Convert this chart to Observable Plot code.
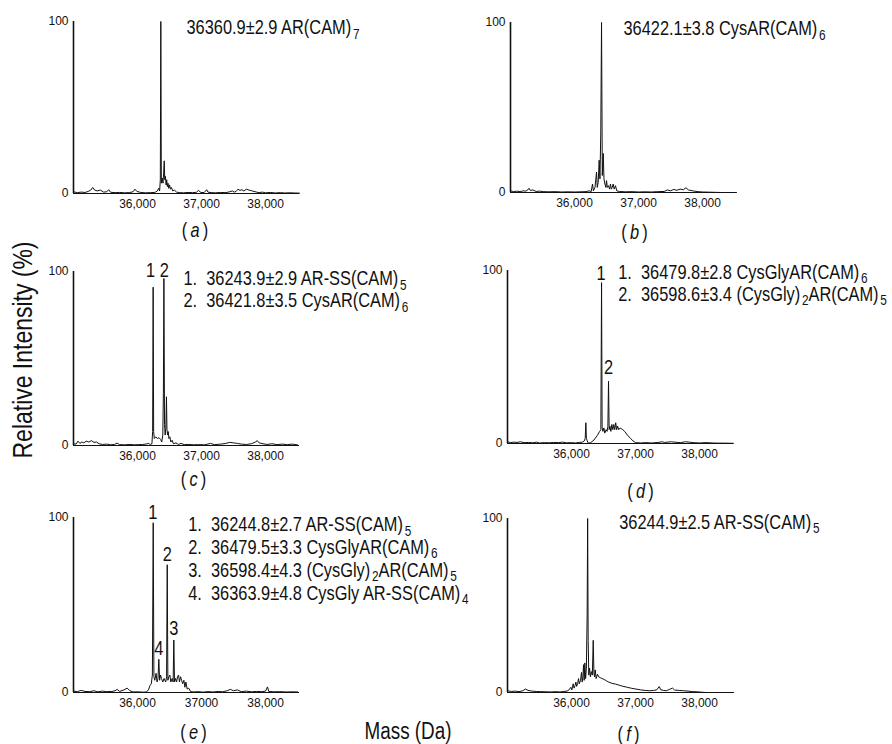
<!DOCTYPE html>
<html>
<head>
<meta charset="utf-8">
<script src="https://cdn.jsdelivr.net/npm/d3@7"></script>
<script src="https://cdn.jsdelivr.net/npm/@observablehq/plot@0.6"></script>
<style>
  body { margin: 0; background: #fff; }
  #fig { position: relative; width: 892px; height: 744px; background: #fff; overflow: hidden; }
  #fig svg { position: absolute; overflow: visible; }
  .lab { position: absolute; font-family: "Liberation Sans", Arial, sans-serif; color: #111; white-space: nowrap; line-height: 1; }
</style>
</head>
<body>
<div id="fig"></div>
<script>
// ---------------- data ----------------
const massDomain = [35000, 38530];
const xTicks = [36000, 37000, 38000];
const xTickLabels = ["36,000", "37,000", "38,000"];
const xTickLabelsE = ["36,000", "37000", "38,000"];
const yTicks = [0, 100];

// [mass (Da), relative intensity (%)]
const specA = [[35000,1],[35060,0.5],[35120,0.8],[35180,0.6],[35230,1.2],[35270,2],[35300,3.5],[35330,2],[35370,1.5],[35420,2],[35470,0.8],[35520,1],[35550,2.2],[35580,0.7],[35650,0.5],[35720,0.6],[35800,0.4],[35870,0.5],[35930,1],[35960,2.5],[35990,1.2],[36050,0.6],[36120,0.4],[36200,0.5],[36270,0.6],[36310,1.5],[36330,3],[36345,1.5],[36356,8],[36364,100],[36372,6],[36385,9],[36398,6],[36408,12],[36417,19],[36426,8],[36436,10],[36446,5],[36456,8],[36466,4],[36476,6],[36488,3],[36500,5],[36515,2.5],[36530,3.5],[36550,1.5],[36575,2],[36610,0.8],[36660,0.5],[36720,0.4],[36790,0.6],[36860,0.5],[36920,0.7],[36950,1.8],[36990,0.6],[37040,0.5],[37080,2.2],[37100,0.8],[37150,0.5],[37220,0.4],[37300,0.6],[37380,0.5],[37440,1],[37480,1.5],[37510,0.8],[37540,1.2],[37570,2.5],[37600,1.8],[37630,2.2],[37660,1.5],[37700,2.5],[37740,2],[37780,1.6],[37820,1.2],[37860,0.8],[37900,0.5],[37950,0.8],[38000,0.4],[38080,0.6],[38150,0.3],[38230,0.5],[38300,0.3],[38380,0.4],[38450,0.3],[38530,0.2]];

const specB = [[35000,1],[35050,0.5],[35100,0.8],[35150,0.5],[35200,1],[35240,0.8],[35270,1.5],[35290,2.5],[35310,1.2],[35350,1.5],[35400,0.6],[35450,0.8],[35520,0.5],[35600,0.4],[35700,0.5],[35800,0.3],[35900,0.4],[36000,0.3],[36100,0.4],[36180,0.5],[36230,1],[36260,0.5],[36281,5],[36295,1],[36320,3],[36344,12],[36355,3],[36370,6],[36385,19],[36397,8],[36410,35],[36422,100],[36434,10],[36448,23],[36460,8],[36475,5],[36490,3],[36500,7],[36512,3],[36530,4],[36548,2],[36562,5],[36575,2],[36590,3],[36604,5],[36620,2],[36640,4],[36660,1],[36700,0.6],[36800,0.4],[36900,0.5],[37000,0.3],[37100,0.4],[37200,0.3],[37300,0.5],[37400,0.6],[37450,1.5],[37500,1],[37550,1.8],[37600,1.3],[37650,2],[37700,1.6],[37740,2.8],[37780,1.5],[37820,1.2],[37870,0.8],[37930,0.5],[38000,0.3],[38100,0.2],[38200,0.1],[38300,0],[38400,0],[38530,0]];

const specC = [[35000,1],[35040,0.8],[35070,2.5],[35100,1.2],[35130,2],[35160,1.5],[35200,2.5],[35240,2],[35280,2.8],[35320,1.8],[35360,2],[35400,1],[35450,0.6],[35520,0.8],[35580,0.4],[35640,0.6],[35680,1.4],[35720,0.5],[35800,0.4],[35880,0.6],[35950,0.4],[36020,0.5],[36080,0.6],[36130,0.8],[36170,1.2],[36200,0.6],[36225,1],[36236,8],[36244,91],[36252,8],[36262,4],[36285,5],[36310,4],[36335,4.5],[36360,3.5],[36378,2],[36395,6],[36404,30],[36412,96],[36422,12],[36432,6],[36442,10],[36452,28],[36460,9],[36470,6],[36480,8],[36490,4],[36505,5],[36520,2],[36540,3],[36560,1],[36600,1.5],[36640,0.6],[36680,1.2],[36730,0.5],[36800,0.6],[36880,0.4],[36950,0.5],[37050,0.4],[37140,1.2],[37200,0.5],[37300,0.8],[37380,1.2],[37440,1.8],[37500,1.5],[37560,1.2],[37620,0.8],[37700,0.6],[37780,1],[37840,2],[37870,2.8],[37900,1.5],[37960,1],[38020,0.6],[38100,1],[38180,0.5],[38260,0.8],[38340,0.5],[38420,0.8],[38500,0.3]];

const specD = [[35000,1],[35050,0.5],[35100,0.8],[35150,0.6],[35200,1],[35260,0.5],[35330,0.6],[35400,0.4],[35450,0.8],[35500,0.3],[35580,0.5],[35650,0.4],[35720,0.6],[35800,0.5],[35860,0.8],[35920,0.4],[36000,0.5],[36060,0.3],[36120,0.6],[36170,0.8],[36200,1.5],[36214,3],[36224,12],[36232,3],[36245,1.5],[36262,0.2],[36300,0.5],[36350,2],[36400,4.5],[36440,7],[36458,8],[36469,93],[36478,9],[36490,7],[36505,9],[36520,6],[36540,8],[36556,7],[36568,10],[36578,36],[36588,8],[36600,10],[36615,7],[36630,11],[36645,8],[36660,11],[36675,8],[36690,12],[36705,8],[36720,10],[36738,8],[36760,9],[36800,8],[36830,7],[36870,5],[36920,3],[36960,1.5],[37000,0.5],[37080,0.3],[37160,0.5],[37250,0.3],[37350,0.6],[37420,1],[37450,0.6],[37560,1],[37600,0.8],[37700,0.5],[37780,1],[37840,0.8],[37900,0.5],[38000,0.3],[38100,0.5],[38200,0.3],[38300,0.2],[38400,0.2],[38530,0.1]];

const specE = [[35000,0.8],[35060,0.5],[35120,1.2],[35180,0.6],[35250,0.5],[35320,1],[35380,0.4],[35450,0.8],[35520,0.5],[35600,0.6],[35650,1],[35682,1.8],[35720,0.6],[35790,1.5],[35839,2.5],[35880,1],[35930,0.3],[36000,0.4],[36080,0.2],[36140,0.3],[36170,1.5],[36195,4],[36215,5],[36232,10],[36245,97],[36256,9],[36270,7],[36290,11],[36305,6],[36320,8],[36333,19],[36345,7],[36360,10],[36375,8],[36395,6],[36415,8],[36440,6],[36454,9],[36464,73],[36474,7],[36490,9],[36505,10],[36520,6],[36540,8],[36556,6],[36567,30],[36578,6],[36595,8],[36610,6],[36625,9],[36641,10],[36655,6],[36672,9],[36688,7],[36705,5],[36724,7],[36740,3],[36755,6],[36775,2],[36800,2.5],[36830,0.5],[36880,0.3],[36950,0.5],[37020,0.2],[37100,0.5],[37180,0.3],[37260,0.6],[37330,0.4],[37400,1],[37450,1.8],[37500,1],[37557,1.5],[37620,0.5],[37700,0.8],[37780,0.4],[37860,0.6],[37940,0.5],[38000,0.8],[38030,3.2],[38050,0.6],[38130,0.4],[38220,0.5],[38320,0.3],[38420,0.4],[38500,0.3]];

const specF = [[35000,1],[35060,0.6],[35120,0.8],[35180,0.5],[35240,1],[35280,2],[35320,1.2],[35380,0.8],[35450,0.6],[35520,0.5],[35600,0.4],[35680,0.3],[35750,0.5],[35820,0.3],[35880,0.6],[35930,0.8],[35960,1.5],[35990,3],[36005,1.5],[36026,5],[36040,2.5],[36055,4],[36068,6],[36080,3.5],[36095,5],[36109,8],[36122,5],[36140,7],[36156,11.5],[36166,6],[36178,9],[36188,16],[36198,7],[36208,17],[36220,8],[36232,14],[36244,45],[36252,100],[36260,30],[36270,10],[36282,14],[36295,9],[36310,12],[36325,10],[36339,30],[36350,11],[36360,9],[36370,13],[36385,8],[36406,10.5],[36425,9],[36450,8.5],[36480,8],[36510,7.5],[36545,6.7],[36580,6],[36630,5.3],[36690,4.8],[36745,4.2],[36800,3.6],[36870,3],[36940,2.4],[37005,2],[37080,1.5],[37150,1.2],[37220,1],[37280,1.2],[37330,1.5],[37370,3.4],[37395,1.5],[37440,1.2],[37480,1],[37530,1.8],[37578,2.5],[37610,1.4],[37680,1.2],[37750,1],[37820,0.8],[37890,0.5],[37960,0.4],[38020,0.2],[38100,0],[38250,0],[38400,0],[38530,0]];

// annotations ("_n" = subscript, "*x*" = italic)
const annA = ["36360.9±2.9 AR(CAM)_7"];
const annB = ["36422.1±3.8 CysAR(CAM)_6"];
const annC = ["1.  36243.9±2.9 AR-SS(CAM)_5", "2.  36421.8±3.5 CysAR(CAM)_6"];
const annD = ["1.  36479.8±2.8 CysGlyAR(CAM)_6", "2.  36598.6±3.4 (CysGly)_2AR(CAM)_5"];
const annE = ["1.  36244.8±2.7 AR-SS(CAM)_5", "2.  36479.5±3.3 CysGlyAR(CAM)_6", "3.  36598.4±4.3 (CysGly)_2AR(CAM)_5", "4.  36363.9±4.8 CysGly AR-SS(CAM)_4"];
const annF = ["36244.9±2.5 AR-SS(CAM)_5"];

// peak number labels: label centre mass, label height (%), text
const peaksC = [{mass: 36205, at: 100.5, label: "1"}, {mass: 36418, at: 100.5, label: "2"}];
const peaksD = [{mass: 36462, at: 98, label: "1"}, {mass: 36578, at: 43.6, label: "2"}];
const peaksE = [{mass: 36240, at: 103, label: "1"}, {mass: 36464, at: 79, label: "2"}, {mass: 36567, at: 36.6, label: "3"}, {mass: 36333, at: 25, label: "4"}];

const panelLetters = ["a", "b", "c", "d", "e", "f"];
const yAxisTitle = "Relative Intensity (%)";
const xAxisTitle = "Mass (Da)";

// ---------------- layout ----------------
const LABEL_FONT = '"Liberation Sans", Arial, sans-serif';
const NARROW_SCALE = 0.82;
const panels = [
  {spec: specA, ann: annA, peaks: [], xl: xTickLabels,  L: {left: 0,   top: 0,   h: 250, ml: 73, mt: 21, mb: 57, tx: 113,   ty: 6.5, lh: 22,   lx: 8.5, ly: 37}},
  {spec: specB, ann: annB, peaks: [], xl: xTickLabels,  L: {left: 446, top: 0,   h: 250, ml: 64, mt: 22, mb: 58, tx: 113,   ty: 6.3, lh: 22,   lx: 11,  ly: 40}},
  {spec: specC, ann: annC, peaks: peaksC, xl: xTickLabels,  L: {left: 0,   top: 250, h: 245, ml: 73, mt: 21, mb: 50, tx: 110,   ty: 7.5, lh: 22,   lx: 7,   ly: 34}},
  {spec: specD, ann: annD, peaks: peaksD, xl: xTickLabels,  L: {left: 446, top: 250, h: 245, ml: 61, mt: 20, mb: 52, tx: 110.7, ty: 2,   lh: 21.7, lx: 20,  ly: 48}},
  {spec: specE, ann: annE, peaks: peaksE, xl: xTickLabelsE, L: {left: 0,   top: 495, h: 249, ml: 73, mt: 22, mb: 52, tx: 114.7, ty: 7.5, lh: 22.7, lx: 7,   ly: 40}},
  {spec: specF, ann: annF, peaks: [], xl: xTickLabels,  L: {left: 446, top: 495, h: 249, ml: 61, mt: 23, mb: 52, tx: 111.7, ty: 4,   lh: 22,   lx: 8,   ly: 42}}
];

// turn "_n" into subscripts and "*x*" into italics
function richify(root) {
  const NS = "http://www.w3.org/2000/svg";
  root.querySelectorAll("text, tspan").forEach(el => {
    if (el.children.length) return;
    const s = el.textContent;
    if (!/_\d|\*[^*]+\*/.test(s)) return;
    el.textContent = "";
    const re = /_(\d+)|\*([^*]+)\*/g;
    let last = 0, m, pendingRevert = false;
    const addPlain = (t) => {
      if (!t) return;
      const ts = document.createElementNS(NS, "tspan");
      if (pendingRevert) { ts.setAttribute("dy", "-0.22em"); pendingRevert = false; }
      ts.textContent = t;
      el.appendChild(ts);
    };
    while ((m = re.exec(s))) {
      addPlain(s.slice(last, m.index));
      const ts = document.createElementNS(NS, "tspan");
      if (m[1] !== undefined) {
        ts.setAttribute("font-size", "72%");
        ts.setAttribute("dy", "0.3em");
        ts.setAttribute("dx", "0.15em");
        ts.textContent = m[1];
        pendingRevert = true;
      } else {
        if (pendingRevert) { ts.setAttribute("dy", "-0.22em"); pendingRevert = false; }
        ts.setAttribute("font-style", "italic");
        ts.textContent = m[2];
      }
      el.appendChild(ts);
      last = re.lastIndex;
    }
    addPlain(s.slice(last));
  });
}

// horizontally condense the lettering (the figure's type is narrow), keeping each anchor fixed
function condense(root) {
  const NS = "http://www.w3.org/2000/svg";
  root.querySelectorAll("g[font-size='20'] text").forEach(el => {
    const wrap = document.createElementNS(NS, "g");
    el.parentNode.insertBefore(wrap, el);
    wrap.appendChild(el);
    const b = wrap.getBBox();
    const anchorEl = el.closest("[text-anchor]");
    const anchor = anchorEl ? anchorEl.getAttribute("text-anchor") : "middle";
    const ax = anchor === "start" ? b.x : anchor === "end" ? b.x + b.width : b.x + b.width / 2;
    wrap.setAttribute("transform", `translate(${ax},0) scale(${NARROW_SCALE},1) translate(${-ax},0)`);
  });
}

const fig = document.getElementById("fig");

panels.forEach((p, idx) => {
  const L = p.L;
  const plot = Plot.plot({
    width: 446,
    height: L.h,
    marginLeft: L.ml,
    marginRight: 446 - L.ml - 226,
    marginTop: L.mt,
    marginBottom: L.mb,
    style: {fontFamily: '"Liberation Sans", Arial, sans-serif', fontSize: "12px", color: "#111", background: "transparent", overflow: "visible"},
    x: {domain: massDomain, ticks: xTicks, tickFormat: (d, i) => p.xl[i], tickSize: 0, tickPadding: 6, label: null},
    y: {domain: [0, 100], ticks: yTicks, tickFormat: d => String(d), tickSize: 0, tickPadding: 5, label: null},
    marks: [
      Plot.ruleY([0], {stroke: "#111", strokeWidth: 1}),
      Plot.ruleX([massDomain[0]], {y1: 0, y2: 100, stroke: "#111", strokeWidth: 1.6}),
      Plot.line(p.spec, {x: d => d[0], y: d => d[1], stroke: "#111", strokeWidth: 1}),
      Plot.text(p.peaks, {x: "mass", y: "at", text: "label", fontFamily: LABEL_FONT, fontSize: 20, lineAnchor: "middle", fill: "#111"}),
      ...p.ann.map((t, k) => Plot.text([t], {text: d => d, frameAnchor: "top-left", dx: L.tx, dy: L.ty + k * L.lh, textAnchor: "start", lineAnchor: "middle", fontFamily: LABEL_FONT, fontSize: 20, fill: "#111"})),
      Plot.text(["(\u2009*" + panelLetters[idx] + "*\u2009)"], {text: d => d, frameAnchor: "bottom", dx: L.lx, dy: L.ly, textAnchor: "middle", lineAnchor: "middle", fontFamily: LABEL_FONT, fontSize: 20, fill: "#111"})
    ]
  });
  plot.style.left = L.left + "px";
  plot.style.top = L.top + "px";
  fig.appendChild(plot);
  richify(plot);
  condense(plot);
});

// shared axis titles
const yt = document.createElement("div");
yt.className = "lab";
yt.textContent = yAxisTitle;
yt.style.cssText += `font-size:28px;left:23px;top:350px;transform:translate(-50%,-50%) rotate(-90deg) scale(${NARROW_SCALE},1);`;
fig.appendChild(yt);

const xt = document.createElement("div");
xt.className = "lab";
xt.textContent = xAxisTitle;
xt.style.cssText += `font-size:23px;left:408px;top:731px;transform:translate(-50%,-50%) scale(${NARROW_SCALE},1);`;
fig.appendChild(xt);
</script>
</body>
</html>
